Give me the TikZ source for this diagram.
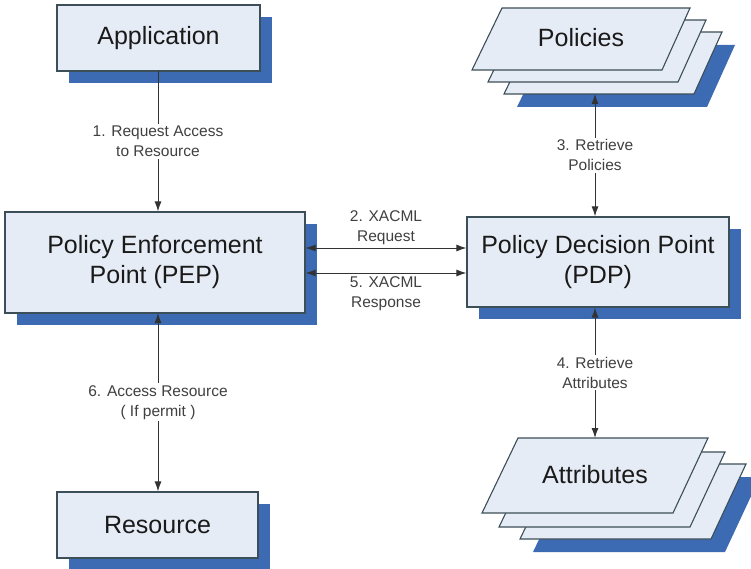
\documentclass[tikz,border=0pt]{standalone}
\usepackage{fontspec}
\setmainfont{Liberation Sans}
\usetikzlibrary{arrows.meta,shadows}
\definecolor{boxfill}{HTML}{E6ECF5}
\definecolor{boxline}{HTML}{3C4E58}
\definecolor{shadowblue}{HTML}{3D6BB3}
\definecolor{txt}{HTML}{1A1A1A}
\definecolor{labtxt}{HTML}{404040}
\definecolor{conncol}{HTML}{333333}
\begin{document}
\begin{tikzpicture}[x=1pt,y=-1pt,
  box/.style={draw=boxline, line width=1.2pt, fill=boxfill, rectangle, inner sep=0pt,
    align=center, text=txt, font=\fontsize{25}{30}\selectfont,
    drop shadow={shadow xshift=12pt, shadow yshift=-12pt, fill=shadowblue, opacity=1, draw=none}},
  layer/.style={draw=boxline, line width=1.1pt, fill=boxfill},
  layshadow/.style={fill=shadowblue, draw=none},
  stacktext/.style={text=txt, font=\fontsize{25}{30}\selectfont, inner sep=0pt},
  conn/.style={draw=conncol, line width=1pt},
  tip/.style={-{Latex[length=10pt,width=7pt]}},
  both/.style={{Latex[length=10pt,width=7pt]}-{Latex[length=10pt,width=7pt]}},
  lab/.style={fill=white, text=labtxt, align=center, inner sep=2pt,
    font=\fontsize{15.5}{20}\selectfont}
]
\useasboundingbox (0,0) rectangle (751,569);

% Rectangular boxes
\node[box, minimum width=203pt, minimum height=66pt] (app) at (158.5,38) {Application};
\node[box, minimum width=300pt, minimum height=101pt] (pep) at (155,262.5) {Policy Enforcement\\Point (PEP)};
\node[box, minimum width=262pt, minimum height=90pt] (pdp) at (598,262) {Policy Decision Point\\(PDP)};
\node[box, minimum width=201pt, minimum height=66pt] (res) at (157.5,525) {Resource};

% Policies stack
\fill[layshadow] (547,45) -- (735,45) -- (707,107) -- (517,107) -- cycle;
\filldraw[layer] (534,32) -- (722,32) -- (694,94) -- (504,94) -- cycle;
\filldraw[layer] (518,20) -- (706,20) -- (678,82) -- (488,82) -- cycle;
\filldraw[layer] (502,8) -- (690,8) -- (662,70) -- (472,70) -- cycle;
\node[stacktext] (pol) at (581,38) {Policies};
\coordinate (polbot) at (595,94);

% Attributes stack
\fill[layshadow] (569,477) -- (760,477) -- (725,552) -- (533,552) -- cycle;
\filldraw[layer] (556,464) -- (746,464) -- (711,539) -- (520,539) -- cycle;
\filldraw[layer] (535,452) -- (725,452) -- (690,527) -- (499,527) -- cycle;
\filldraw[layer] (518,438) -- (708,438) -- (673,513) -- (482,513) -- cycle;
\node[stacktext] (att) at (595,475) {Attributes};
\coordinate (atttop) at (595,438);

% Connectors
\draw[conn, tip] (158,71) coordinate (appbot) -- node[lab] {1. Request Access\\to Resource} (appbot |- pep.north);
\draw[conn, both] (pep.east |- 0,248) -- node[lab, above, fill=none, inner sep=3pt] {2. XACML\\Request} (pdp.west |- 0,248);
\draw[conn, both] (pep.east |- 0,273) -- node[lab, below, fill=none, inner sep=3pt] {5. XACML\\Response} (pdp.west |- 0,273);
\draw[conn, both] (polbot) -- node[lab] {3. Retrieve\\Policies} (polbot |- pdp.north);
\draw[conn, both] (atttop |- pdp.south) -- node[lab] {4. Retrieve\\Attributes} (atttop);
\draw[conn, both] (158,313) coordinate (pepbot) -- node[lab] {6. Access Resource\\( If permit )} (pepbot |- res.north);
\end{tikzpicture}
\end{document}
